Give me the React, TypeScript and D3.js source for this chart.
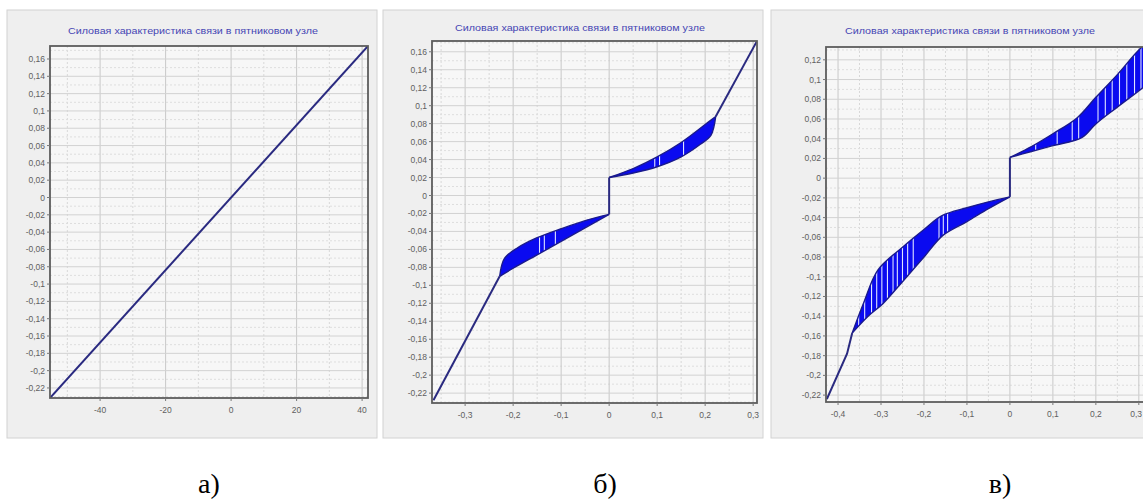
import React from 'react';
import * as d3 from 'd3';

type Pt = [number, number];

const title = 'Силовая характеристика связи в пятниковом узле';

// --- panel а) : linear characteristic
const xTicksA = [-40, -20, 0, 20, 40];
const yTicksA = [0.16, 0.14, 0.12, 0.1, 0.08, 0.06, 0.04, 0.02, 0, -0.02, -0.04, -0.06, -0.08, -0.1, -0.12, -0.14, -0.16, -0.18, -0.2, -0.22];
const lineA: Pt[] = [[-55.3, -0.2316], [41.8, 0.175]];

// --- panel б) : narrow hysteresis bands
const xTicksB = [-0.3, -0.2, -0.1, 0, 0.1, 0.2, 0.3];
const yTicksB = yTicksA;
const tailLowB: Pt[] = [[-0.366, -0.228], [-0.228, -0.09]];
const negUpperB: Pt[] = [[-0.228, -0.09], [-0.218, -0.07], [-0.19, -0.058], [-0.15, -0.047], [-0.1, -0.037], [-0.05, -0.028], [0, -0.021]];
const negLowerB: Pt[] = [[-0.228, -0.09], [-0.2, -0.081], [-0.15, -0.066], [-0.1, -0.051], [-0.05, -0.036], [0, -0.021]];
const jumpB: Pt[] = [[0, -0.021], [0, 0.02]];
const posUpperB: Pt[] = [[0, 0.02], [0.05, 0.03], [0.1, 0.043], [0.15, 0.059], [0.2, 0.079], [0.222, 0.088]];
const posLowerB: Pt[] = [[0, 0.02], [0.05, 0.025], [0.1, 0.032], [0.15, 0.043], [0.19, 0.057], [0.212, 0.067], [0.222, 0.088]];
const tailHighB: Pt[] = [[0.222, 0.088], [0.307, 0.171]];
const stripesNegB = [-0.145, -0.135, -0.112];
const stripesPosB = [0.095, 0.105, 0.155];

// --- panel в) : wide hysteresis bands
const xTicksC = [-0.4, -0.3, -0.2, -0.1, 0, 0.1, 0.2, 0.3];
const yTicksC = [0.12, 0.1, 0.08, 0.06, 0.04, 0.02, 0, -0.02, -0.04, -0.06, -0.08, -0.1, -0.12, -0.14, -0.16, -0.18, -0.2, -0.22];
const tailLowC: Pt[] = [[-0.426, -0.224], [-0.379, -0.178], [-0.367, -0.157]];
const negUpperC: Pt[] = [[-0.367, -0.157], [-0.34, -0.126], [-0.307, -0.093], [-0.25, -0.07], [-0.2, -0.052], [-0.158, -0.038], [-0.1, -0.03], [-0.05, -0.024], [0, -0.019]];
const negLowerC: Pt[] = [[-0.367, -0.157], [-0.33, -0.14], [-0.295, -0.127], [-0.25, -0.105], [-0.2, -0.08], [-0.156, -0.058], [-0.1, -0.044], [-0.05, -0.031], [0, -0.019]];
const jumpC: Pt[] = [[0, -0.019], [0, 0.021]];
const posUpperC: Pt[] = [[0, 0.021], [0.05, 0.032], [0.1, 0.045], [0.156, 0.061], [0.2, 0.082], [0.25, 0.105], [0.3, 0.13], [0.34, 0.145]];
const posLowerC: Pt[] = [[0, 0.021], [0.05, 0.027], [0.1, 0.033], [0.167, 0.041], [0.2, 0.055], [0.25, 0.072], [0.31, 0.092], [0.34, 0.103]];
const stripesNegC = [-0.352, -0.338, -0.322, -0.31, -0.298, -0.285, -0.272, -0.262, -0.25, -0.238, -0.225, -0.165, -0.155, -0.145];
const stripesPosC = [0.06, 0.11, 0.145, 0.16, 0.205, 0.222, 0.238, 0.255, 0.272, 0.29, 0.305, 0.318];

type Band = { upper: Pt[]; lower: Pt[]; stripes: number[] };

type PanelProps = {
  id: string;
  box: [number, number, number, number];
  frame: [number, number, number, number]; // left, top, right, bottom
  xDomain: [number, number];
  yDomain: [number, number];
  xTicks: number[];
  yTicks: number[];
  titleX: number;
  titleY: number;
  xLabelY: number;
  lines: Pt[][];
  bands: Band[];
  caption: string;
  captionX: number;
};

const W = 1143;
const font = "Arial, 'Liberation Sans', sans-serif";

const fmt = (v: number) => String(+v.toFixed(4)).replace('.', ',');

function mids(ticks: number[], domain: [number, number]) {
  const t = [...ticks].sort((a, b) => a - b);
  const step = t[1] - t[0];
  const out: number[] = [];
  for (let i = -1; i < t.length; i++) {
    const m = (i < 0 ? t[0] - step : t[i]) + step / 2;
    if (m > Math.min(...domain) && m < Math.max(...domain)) out.push(m);
  }
  return out;
}

function Panel(p: PanelProps) {
  const [left, top, right, bottom] = p.frame;
  const x = d3.scaleLinear(p.xDomain, [left, right]);
  const y = d3.scaleLinear(p.yDomain, [bottom, top]);
  const straight = d3.line<Pt>().x(d => x(d[0])).y(d => y(d[1]));
  const smooth = d3.line<Pt>().x(d => x(d[0])).y(d => y(d[1])).curve(d3.curveCatmullRom.alpha(0.5));
  const bandPath = (b: Band) => {
    const up = smooth(b.upper) || '';
    const lo = (smooth([...b.lower].reverse()) || '').replace(/^M/, 'L');
    return up + lo + 'Z';
  };
  const xMinor = mids(p.xTicks, p.xDomain);
  const yMinor = mids(p.yTicks, p.yDomain);
  const [bx, by, bw, bh] = p.box;
  return (
    <g>
      <defs>
        <clipPath id={`clip-${p.id}`}>
          <rect x={left} y={top} width={right - left} height={bottom - top} />
        </clipPath>
        {p.bands.map((b, i) => (
          <clipPath key={i} id={`band-${p.id}-${i}`}>
            <path d={bandPath(b)} />
          </clipPath>
        ))}
      </defs>
      <rect x={bx} y={by} width={bw} height={bh} fill="#efefef" stroke="#d2d2d2" />
      <rect x={left} y={top} width={right - left} height={bottom - top} fill="#f7f7f7" />
      <g clipPath={`url(#clip-${p.id})`}>
        {xMinor.map((t, i) => (
          <line key={'xm' + i} x1={x(t)} x2={x(t)} y1={top} y2={bottom} stroke="#d8d8d8" strokeDasharray="2,2" />
        ))}
        {yMinor.map((t, i) => (
          <line key={'ym' + i} x1={left} x2={right} y1={y(t)} y2={y(t)} stroke="#dedede" strokeDasharray="2,2" />
        ))}
        {p.xTicks.map((t, i) => (
          <line key={'x' + i} x1={x(t)} x2={x(t)} y1={top} y2={bottom} stroke="#c8c8c8" />
        ))}
        {p.yTicks.map((t, i) => (
          <line key={'y' + i} x1={left} x2={right} y1={y(t)} y2={y(t)} stroke="#d2d2d2" />
        ))}
        {p.bands.map((b, i) => (
          <g key={'b' + i}>
            <path d={bandPath(b)} fill="#0a0af0" />
            <g clipPath={`url(#band-${p.id}-${i})`}>
              {b.stripes.map((s, j) => (
                <line key={j} x1={x(s)} x2={x(s)} y1={top} y2={bottom} stroke="#dfe4ff" strokeWidth={1.1} />
              ))}
            </g>
            <path d={smooth(b.upper) || ''} fill="none" stroke="#1a1a8c" strokeWidth={1.4} />
            <path d={smooth(b.lower) || ''} fill="none" stroke="#1a1a8c" strokeWidth={1.4} />
          </g>
        ))}
        {p.lines.map((l, i) => (
          <path key={'l' + i} d={straight(l) || ''} fill="none" stroke="#2a2a80" strokeWidth={2} />
        ))}
      </g>
      <rect x={left} y={top} width={right - left} height={bottom - top} fill="none" stroke="#5c5c5c" strokeWidth={1.8} />
      <text x={p.titleX} y={p.titleY} textAnchor="middle" fontFamily={font} fontSize={9} fill="#4646b4" textLength={250} lengthAdjust="spacingAndGlyphs">
        {title}
      </text>
      {p.yTicks.map((t, i) => (
        <g key={'yl' + i}>
          <line x1={left - 3} x2={left} y1={y(t)} y2={y(t)} stroke="#777" />
          <text x={left - 5} y={y(t) + 3} textAnchor="end" fontFamily={font} fontSize={8.5} fill="#606060">
            {fmt(t)}
          </text>
        </g>
      ))}
      {p.xTicks.map((t, i) => {
        const px = x(t);
        const nearEdge = px + 8 > W;
        return (
          <g key={'xl' + i}>
            <line x1={px} x2={px} y1={bottom} y2={bottom + 3} stroke="#777" />
            <text x={nearEdge ? W - 1 : px} y={p.xLabelY} textAnchor={nearEdge ? 'end' : 'middle'} fontFamily={font} fontSize={8.5} fill="#606060">
              {fmt(t)}
            </text>
          </g>
        );
      })}
      <text x={p.captionX} y={493} textAnchor="middle" fontFamily="'Liberation Serif', 'DejaVu Serif', serif" fontSize={28} fill="#000">
        {p.caption}
      </text>
    </g>
  );
}

export default function App() {
  return (
    <svg width={W} height={501} style={{ position: 'absolute', left: 0, top: 0, background: '#fff' }}>
      <Panel
        id="a"
        box={[7, 10, 370, 428]}
        frame={[50, 46, 368, 398]}
        xDomain={[-55.3, 41.8]}
        yDomain={[-0.2316, 0.175]}
        xTicks={xTicksA}
        yTicks={yTicksA}
        titleX={193}
        titleY={34}
        xLabelY={413}
        lines={[lineA]}
        bands={[]}
        caption="а)"
        captionX={209}
      />
      <Panel
        id="b"
        box={[383, 10, 380, 428]}
        frame={[432, 41, 757, 403]}
        xDomain={[-0.369, 0.308]}
        yDomain={[-0.231, 0.172]}
        xTicks={xTicksB}
        yTicks={yTicksB}
        titleX={580}
        titleY={31}
        xLabelY={418}
        lines={[tailLowB, jumpB, tailHighB]}
        bands={[
          { upper: negUpperB, lower: negLowerB, stripes: stripesNegB },
          { upper: posUpperB, lower: posLowerB, stripes: stripesPosB },
        ]}
        caption="б)"
        captionX={605}
      />
      <Panel
        id="c"
        box={[771, 10, 380, 428]}
        frame={[826, 47, 1150, 402]}
        xDomain={[-0.428, 0.326]}
        yDomain={[-0.227, 0.133]}
        xTicks={xTicksC}
        yTicks={yTicksC}
        titleX={970}
        titleY={34}
        xLabelY={417}
        lines={[tailLowC, jumpC]}
        bands={[
          { upper: negUpperC, lower: negLowerC, stripes: stripesNegC },
          { upper: posUpperC, lower: posLowerC, stripes: stripesPosC },
        ]}
        caption="в)"
        captionX={1000}
      />
    </svg>
  );
}
